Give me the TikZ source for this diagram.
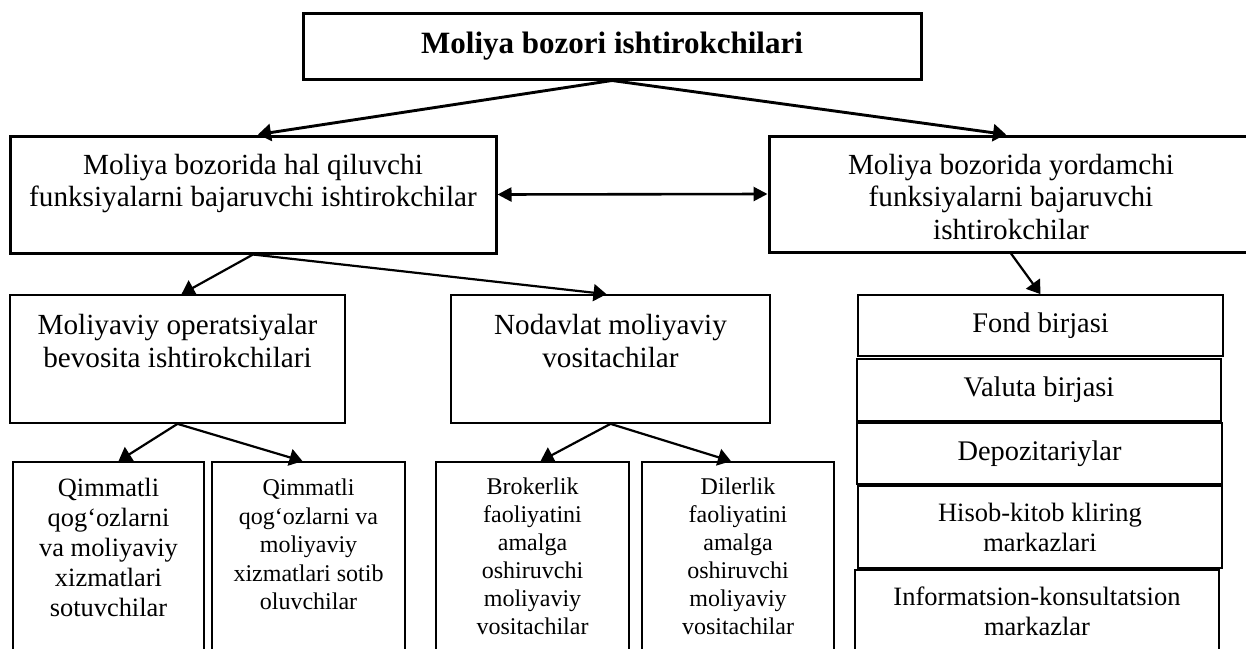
\documentclass[tikz,border=0pt]{standalone}
\usepackage{fontspec}
\setmainfont{Liberation Serif}
\usetikzlibrary{arrows.meta}

\begin{document}
\begin{tikzpicture}[
    x=0.5pt, y=-0.5pt,
    box/.style={
        draw,
        line width=0.85pt,
        inner sep=0pt,
        align=center
    },
    mainbox/.style={box, line width=1.5pt},
    txt/.style={anchor=north, align=center, inner sep=0pt},
    big/.style={font=\fontsize{14.6}{16.4}\selectfont},
    mid/.style={font=\fontsize{13.25}{15}\selectfont},
    small/.style={font=\fontsize{12}{14}\selectfont},
    link/.style={-{Triangle[length=6.5pt,width=8.5pt]}, line width=1.1pt},
    mainlink/.style={link, line width=1.45pt}
]
\useasboundingbox (0,0) rectangle (1246,648);

\node[mainbox, minimum width=309pt, minimum height=33pt,
      font=\fontsize{15.5}{18}\selectfont\bfseries] (top) at (612,46) {Moliya bozori ishtirokchilari};

\node[mainbox, minimum width=243pt, minimum height=58.5pt,
      label={[txt, big, yshift=-9.5pt]north:Moliya bozorida hal qiluvchi\\funksiyalarni bajaruvchi ishtirokchilar}] (hal) at (253,194.5) {};
\node[mainbox, minimum width=242pt, minimum height=58pt,
      label={[txt, big, yshift=-9.5pt]north:Moliya bozorida yordamchi\\funksiyalarni bajaruvchi\\ishtirokchilar}] (yordam) at (1011,194) {};

\node[box, minimum width=167.5pt, minimum height=64pt,
      label={[txt, big, yshift=-10pt]north:Moliyaviy operatsiyalar\\bevosita ishtirokchilari}] (bevosita) at (177.5,359) {};
\node[box, minimum width=159.5pt, minimum height=64pt,
      label={[txt, big, yshift=-10pt]north:Nodavlat moliyaviy\\vositachilar}] (nodavlat) at (610.5,359) {};

\node[box, minimum width=95.5pt, minimum height=99pt,
      label={[txt, font=\fontsize{13.2}{15}\selectfont, yshift=-8.5pt]north:Qimmatli\\qog‘ozlarni\\va moliyaviy\\xizmatlari\\sotuvchilar}] (sotuvchi) at (108.5,561) {};
\node[box, minimum width=96.5pt, minimum height=99pt,
      label={[txt, font=\fontsize{12}{14.2}\selectfont, yshift=-8.8pt]north:Qimmatli\\qog‘ozlarni va\\moliyaviy\\xizmatlari sotib\\oluvchilar}] (oluvchi) at (308.5,561) {};
\node[box, minimum width=96.5pt, minimum height=99pt,
      label={[txt, small, yshift=-8.3pt]north:Brokerlik\\faoliyatini\\amalga\\oshiruvchi\\moliyaviy\\vositachilar}] (broker) at (532.5,561) {};
\node[box, minimum width=96pt, minimum height=99pt,
      label={[txt, small, yshift=-8.3pt]north:Dilerlik\\faoliyatini\\amalga\\oshiruvchi\\moliyaviy\\vositachilar}] (diler) at (738,561) {};

\node[box, minimum width=182.5pt, minimum height=30.5pt, font=\fontsize{14.2}{16}\selectfont] (fond) at (1040.5,325.5) {Fond birjasi};
\node[box, minimum width=182pt, minimum height=31pt, font=\fontsize{14.2}{16}\selectfont] (valuta) at (1039,390) {Valuta birjasi};
\node[box, line width=1.1pt, minimum width=182.5pt, minimum height=30.5pt, font=\fontsize{14.2}{16}\selectfont] (depo) at (1039.5,453.5) {Depozitariylar};
\node[box, mid, minimum width=182pt, minimum height=41pt] (kliring) at (1040,527) {Hisob-kitob kliring\\markazlari};
\node[box, mid, minimum width=182pt, minimum height=41pt] (info) at (1037,611) {Informatsion-konsultatsion\\markazlar};

\draw[mainlink] (top.south) -- ([xshift=2.5pt]hal.north);
\draw[mainlink] (top.south) -- ([xshift=-2.5pt]yordam.north);
\draw[{Triangle[length=7pt,width=7pt]}-{Triangle[length=7pt,width=7pt]}, line width=1.3pt] (hal.east) -- (yordam.west);

\draw[link] (hal.south) -- ([xshift=2pt]bevosita.north);
\draw[link] (hal.south) -- ([xshift=-2pt]nodavlat.north);
\draw[link] (yordam.south) -- (fond.north);

\draw[link] (bevosita.south) -- ([xshift=5pt]sotuvchi.north);
\draw[link] (bevosita.south) -- ([xshift=-3pt]oluvchi.north);
\draw[link] (nodavlat.south) -- ([xshift=4pt]broker.north);
\draw[link] (nodavlat.south) -- ([xshift=-3.5pt]diler.north);

\end{tikzpicture}
\end{document}
